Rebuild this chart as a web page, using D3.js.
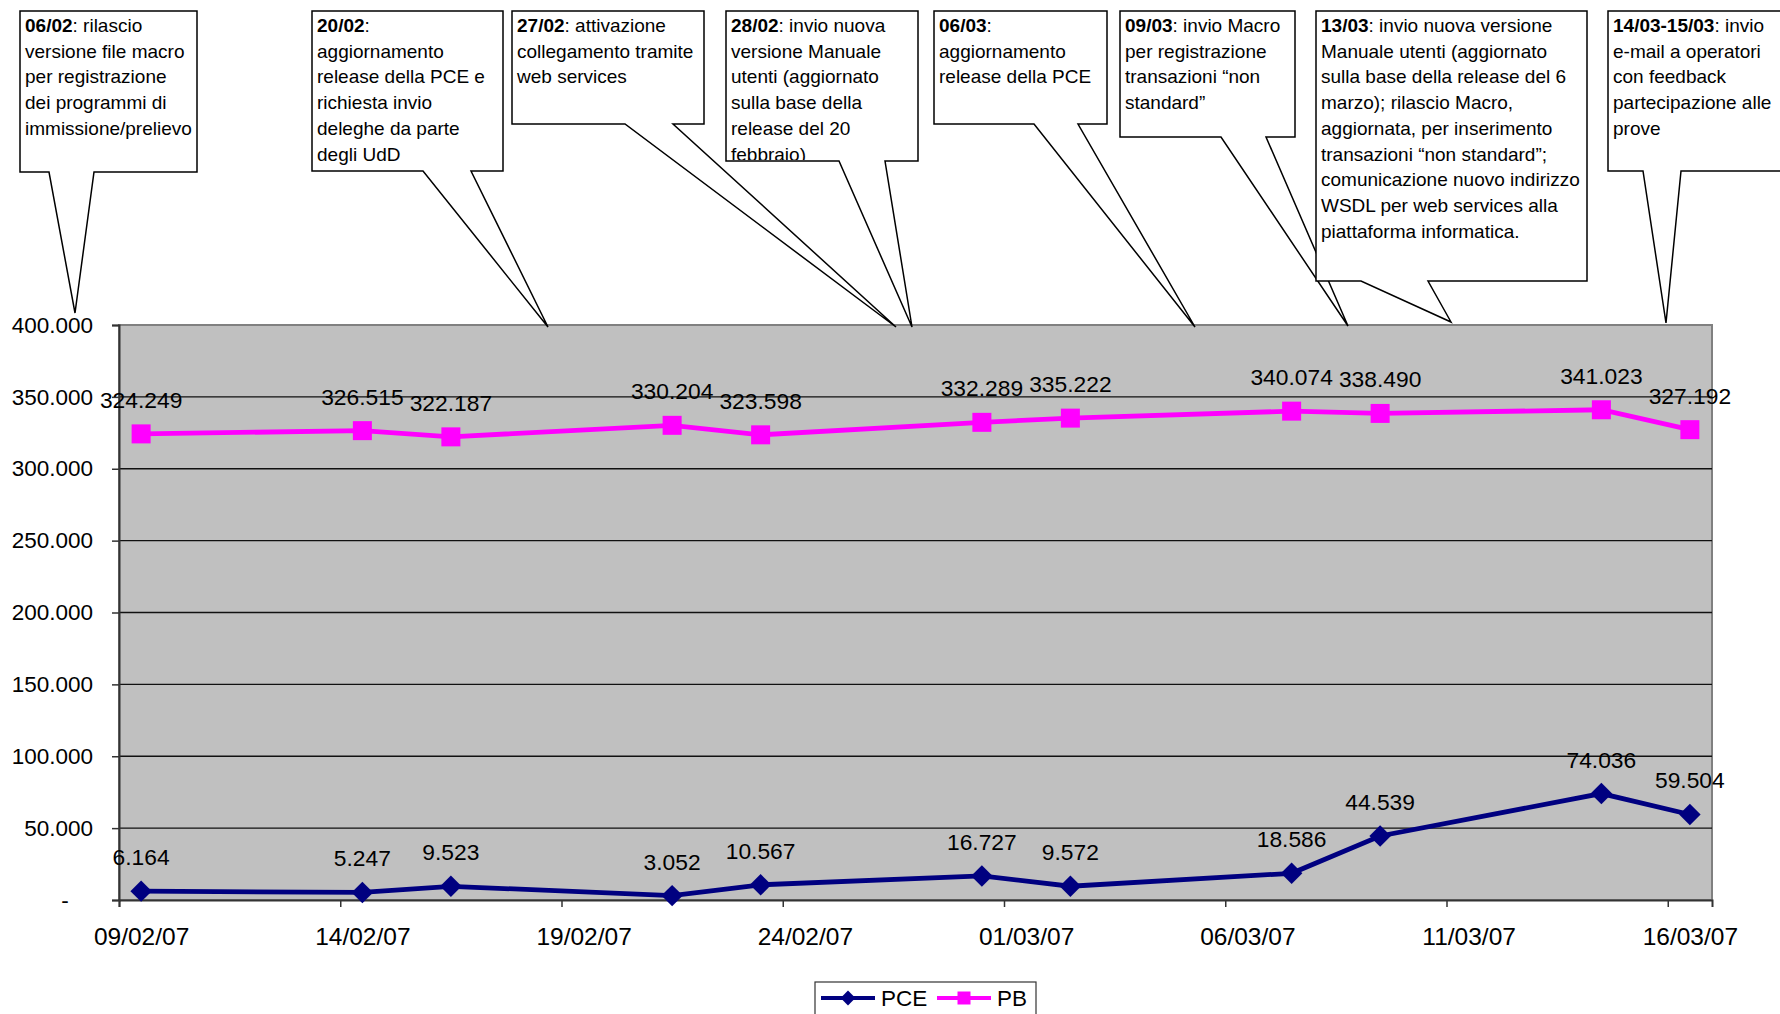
<!DOCTYPE html>
<html>
<head>
<meta charset="utf-8">
<script src="https://cdn.jsdelivr.net/npm/d3@7/dist/d3.min.js"></script>
<style>
	body{margin:0;background:#fff;overflow:hidden;}
	svg{display:block;font-family:"Liberation Sans",Arial,sans-serif;}
</style>
</head>
<body>
<div id="chart"></div>
<script>
// dati
var dates=["09/02/07","14/02/07","16/02/07","21/02/07","23/02/07","28/02/07","02/03/07","07/03/07","09/03/07","14/03/07","16/03/07"];
var pce=[6164,5247,9523,3052,10567,16727,9572,18586,44539,74036,59504];
var pb=[324249,326515,322187,330204,323598,332289,335222,340074,338490,341023,327192];
var seriesNames=["PCE","PB"];
var xTicks=["09/02/07","14/02/07","19/02/07","24/02/07","01/03/07","06/03/07","11/03/07","16/03/07"];
var xDomain=["09/02/07","17/03/07"];
var yTicks=[0,50000,100000,150000,200000,250000,300000,350000,400000];

// testi dei commenti
var noteDates=["06/02","20/02","27/02","28/02","06/03","09/03","13/03","14/03-15/03"];
var noteLines=[
	[": rilascio","versione file macro","per registrazione","dei programmi di","immissione/prelievo"],
	[":","aggiornamento","release della PCE e","richiesta invio","deleghe da parte","degli UdD"],
	[": attivazione","collegamento tramite","web services"],
	[": invio nuova","versione Manuale","utenti (aggiornato","sulla base della","release del 20","febbraio)"],
	[":","aggiornamento","release della PCE"],
	[": invio Macro","per registrazione","transazioni \u201cnon","standard\u201d"],
	[": invio nuova versione","Manuale utenti (aggiornato","sulla base della release del 6","marzo); rilascio Macro,","aggiornata, per inserimento","transazioni \u201cnon standard\u201d;","comunicazione nuovo indirizzo","WSDL per web services alla","piattaforma informatica."],
	[": invio","e-mail a operatori","con feedback","partecipazione alle","prove"]
];

var width=1780, height=1014;
var padding={left:119,right:68,top:325,bottom:114};
var colorArr={"PCE":"#000080","PB":"#FF00FF"};

// posizione dei riquadri di commento (box + punta)
var noteBoxes=[
	{x:20,  w:177,h:161,b:[49,94],    tip:[75,313]},
	{x:312, w:191,h:160,b:[423,471],  tip:[548,327]},
	{x:512, w:192,h:113,b:[625,673],  tip:[896,327]},
	{x:726, w:192,h:150,b:[839,885],  tip:[912,327]},
	{x:934, w:173,h:113,b:[1034,1078],tip:[1195,327]},
	{x:1120,w:175,h:126,b:[1221,1266],tip:[1348,326]},
	{x:1316,w:271,h:270,b:[1361,1428],tip:[1451,322]},
	{x:1608,w:190,h:160,b:[1643,1681],tip:[1666,323]}
];

var parse=d3.utcParse("%d/%m/%y");
var it=d3.formatLocale({decimal:",",thousands:".",grouping:[3],currency:["\u20ac",""]});
var fmt=it.format(",");

var svg=d3.select("#chart").append("svg")
	.attr("width",width).attr("height",height);

var x_scale=d3.scaleUtc()
	.domain(xDomain.map(parse))
	.range([padding.left,width-padding.right]);
var y_scale=d3.scaleLinear().domain([0,400000]).range([height-padding.bottom,padding.top]);

// Excel mette i punti a metà giornata
function px(s){ return x_scale(d3.utcHour.offset(parse(s),12)); }
var halfDay=x_scale(d3.utcHour.offset(parse(xDomain[0]),12))-x_scale(parse(xDomain[0]));

// sfondo area del grafico
svg.append("rect")
	.attr("x",padding.left).attr("y",padding.top)
	.attr("width",width-padding.left-padding.right)
	.attr("height",height-padding.top-padding.bottom)
	.attr("fill","#C0C0C0")
	.attr("stroke","#808080").attr("stroke-width",2);

svg.append("g").attr("class","grid")
	.selectAll("line")
	.data(yTicks.filter(function(d){ return d>0 && d<400000; }))
	.enter().append("line")
	.attr("x1",padding.left).attr("x2",width-padding.right)
	.attr("y1",function(d){ return y_scale(d); })
	.attr("y2",function(d){ return y_scale(d); })
	.attr("stroke","#111").attr("stroke-width",1.3);

// assi
var y_axis=d3.axisLeft(y_scale).tickValues(yTicks).tickSize(7).tickPadding(19)
	.tickFormat(function(d){ return d==0 ? "-" : fmt(d); });
var yg=svg.append("g")
	.attr("transform","translate("+padding.left+",0)")
	.call(y_axis);
yg.selectAll("text").attr("font-size",22.5).attr("fill","#000")
	.filter(function(d){ return d==0; })
	.attr("text-anchor","middle").attr("x",-54);

var x_axis=d3.axisBottom(x_scale).tickValues(xTicks.map(parse)).tickSize(7)
	.tickFormat(d3.utcFormat("%d/%m/%y"));
var xg=svg.append("g")
	.attr("transform","translate(0,"+(height-padding.bottom)+")")
	.call(x_axis);
xg.selectAll("text").attr("font-size",24.5).attr("fill","#000")
	.attr("dy",null).attr("y",45).attr("x",halfDay);

[yg,xg].forEach(function(g){
	g.select(".domain").attr("stroke","#333").attr("stroke-width",2);
	g.selectAll(".tick line").attr("stroke","#333").attr("stroke-width",1.5);
	g.attr("font-family",null);
});

// linee e punti
var values=[pce,pb];
var symbols={"PCE":{type:d3.symbolSquare,size:230,rot:45},"PB":{type:d3.symbolSquare,size:361,rot:0}};
var lineCurve=d3.line()
	.x(function(d,i){ return px(dates[i]); })
	.y(function(d){ return y_scale(d); });

values.forEach(function(v,k){
	var name=seriesNames[k];
	var g=svg.append("g").attr("class","series");
	g.append("path")
		.attr("d",lineCurve(v))
		.attr("fill","none")
		.attr("stroke",colorArr[name])
		.attr("stroke-width",4.8);
	g.selectAll("path.mk")
		.data(v)
		.enter().append("path")
		.attr("class","mk")
		.attr("d",d3.symbol().type(symbols[name].type).size(symbols[name].size))
		.attr("transform",function(d,i){ return "translate("+px(dates[i])+","+y_scale(d)+") rotate("+symbols[name].rot+")"; })
		.attr("fill",colorArr[name]);
	g.selectAll("text")
		.data(v)
		.enter().append("text")
		.attr("x",function(d,i){ return px(dates[i]); })
		.attr("y",function(d){ return y_scale(d)-26; })
		.attr("text-anchor","middle")
		.attr("font-size",22.8)
		.text(function(d){ return fmt(d); });
});

// commenti (callout)
var lineH=25.7;
noteBoxes.forEach(function(b,i){
	var top=11, bot=top+b.h;
	var g=svg.append("g").attr("class","note");
	g.append("path")
		.attr("d","M"+b.x+","+top+"H"+(b.x+b.w)+"V"+bot+"H"+b.b[1]+"L"+b.tip[0]+","+b.tip[1]+"L"+b.b[0]+","+bot+"H"+b.x+"Z")
		.attr("fill","#fff").attr("stroke","#000").attr("stroke-width",1.5)
		.attr("stroke-linejoin","miter");
	svg.append("clipPath").attr("id","clip"+i)
		.append("rect").attr("x",b.x).attr("y",top).attr("width",b.w).attr("height",b.h-1);
	var t=g.append("text")
		.attr("clip-path","url(#clip"+i+")")
		.attr("font-size",19);
	noteLines[i].forEach(function(s,j){
		var line=t.append("tspan").attr("x",b.x+5).attr("y",top+21+j*lineH);
		if(j==0){
			line.append("tspan").attr("font-weight","bold").text(noteDates[i]);
		}
		line.append("tspan").text(s);
	});
});

// legenda
var lg=svg.append("g").attr("class","legend");
lg.append("rect")
	.attr("x",815).attr("y",982).attr("width",221).attr("height",50)
	.attr("fill","#fff").attr("stroke","#333").attr("stroke-width",1.2);
var legendSym={"PCE":{size:110,rot:45},"PB":{size:169,rot:0}};
var item=lg.selectAll("g.item")
	.data(seriesNames)
	.enter().append("g").attr("class","item")
	.attr("transform",function(d,i){ return "translate("+(821+116*i)+",998)"; });
item.append("line")
	.attr("x1",0).attr("x2",54).attr("y1",0).attr("y2",0)
	.attr("stroke",function(d){ return colorArr[d]; })
	.attr("stroke-width",4);
item.append("path")
	.attr("d",function(d){ return d3.symbol().type(d3.symbolSquare).size(legendSym[d].size)(); })
	.attr("transform",function(d){ return "translate(27,0) rotate("+legendSym[d].rot+")"; })
	.attr("fill",function(d){ return colorArr[d]; });
item.append("text")
	.attr("x",60).attr("y",8)
	.attr("font-size",22.5)
	.text(function(d){ return d; });
</script>
</body>
</html>
